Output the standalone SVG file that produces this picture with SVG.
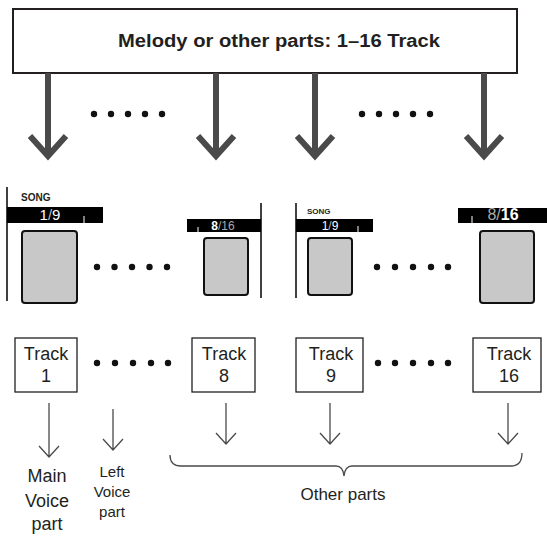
<svg xmlns="http://www.w3.org/2000/svg" width="547" height="536" viewBox="0 0 547 536">
<style>
.t{font-family:"Liberation Sans",Arial,sans-serif;fill:#231f20}
.big{stroke:#4a4a4a;stroke-width:6;fill:none;stroke-linecap:butt}
.thin{stroke:#4a4a4a;stroke-width:1.3;fill:none}
.box{fill:#fff;stroke:#231f20;stroke-width:1.3}
.bar{fill:#000}
.scr{fill:#c8c8c8;stroke:#111;stroke-width:2}
.vl{stroke:#000;stroke-width:1.5}
.dot{fill:#111}
.wt{font-family:"Liberation Sans",Arial,sans-serif;fill:#fff}
.gt{font-family:"Liberation Sans",Arial,sans-serif;fill:#aaa}
</style>
<rect width="547" height="536" fill="#fff"/>
<g id="top">
<rect x="13" y="9" width="504" height="64" fill="#fff" stroke="#231f20" stroke-width="2"/>
<text class="t" x="279" y="47" font-size="18" font-weight="bold" text-anchor="middle" textLength="322" lengthAdjust="spacingAndGlyphs">Melody or other parts: 1–16 Track</text>
</g>
<g id="connectors">
<path class="big" d="M48 73V157M30 136L48 156L66 136"/>
<path class="big" d="M216 73V157M198 136L216 156L234 136"/>
<path class="big" d="M315 73V157M297 136L315 156L333 136"/>
<path class="big" d="M484 73V157M466 136L484 156L502 136"/>
<path class="thin" d="M49 403V457M39 446L49 457L59 446"/>
<path class="thin" d="M113 409V450M103 439L113 450L123 439"/>
<path class="thin" d="M226 403V444M216 433L226 444L236 433"/>
<path class="thin" d="M330 403V444M320 433L330 444L340 433"/>
<path class="thin" d="M508 403V444M498 433L508 444L518 433"/>
<path class="thin" d="M170 455Q170 466 181 466H336Q343 466 344 476Q345 466 352 466H511Q522 466 522 453"/>
</g>
<g id="dots">
<g class="dot">
<circle cx="94" cy="114" r="3.2"/><circle cx="111" cy="114" r="3.2"/><circle cx="128" cy="114" r="3.2"/><circle cx="145" cy="114" r="3.2"/><circle cx="162" cy="114" r="3.2"/>
<circle cx="362" cy="114" r="3.2"/><circle cx="379" cy="114" r="3.2"/><circle cx="396" cy="114" r="3.2"/><circle cx="413" cy="114" r="3.2"/><circle cx="430" cy="114" r="3.2"/>
<circle cx="97" cy="267" r="3.2"/><circle cx="114.5" cy="267" r="3.2"/><circle cx="132" cy="267" r="3.2"/><circle cx="149.5" cy="267" r="3.2"/><circle cx="167" cy="267" r="3.2"/>
<circle cx="377" cy="267" r="3.2"/><circle cx="395" cy="267" r="3.2"/><circle cx="413" cy="267" r="3.2"/><circle cx="431" cy="267" r="3.2"/><circle cx="448" cy="267" r="3.2"/>
<circle cx="97" cy="363" r="3.2"/><circle cx="115" cy="363" r="3.2"/><circle cx="133" cy="363" r="3.2"/><circle cx="151" cy="363" r="3.2"/><circle cx="168" cy="363" r="3.2"/>
<circle cx="378" cy="363" r="3.2"/><circle cx="395" cy="363" r="3.2"/><circle cx="413" cy="363" r="3.2"/><circle cx="431" cy="363" r="3.2"/><circle cx="448" cy="363" r="3.2"/>
</g>
</g>
<g id="display1">
<line class="vl" x1="7" y1="187" x2="7" y2="301"/>
<text class="t" x="21" y="201" font-size="10" font-weight="bold" fill="#000">SONG</text>
<rect class="bar" x="7" y="207" width="96" height="16"/>
<line x1="84" y1="216" x2="84" y2="223" stroke="#fff" stroke-width="1"/>
<text x="50" y="220" font-size="15" text-anchor="middle" class="wt"><tspan>1</tspan><tspan fill="#bbb">/</tspan><tspan>9</tspan></text>
<rect class="scr" x="22" y="231" width="55" height="72" rx="3"/>
</g>
<g id="display2">
<line class="vl" x1="261" y1="203" x2="261" y2="298"/>
<rect class="bar" x="187" y="219" width="74" height="13"/>
<line x1="198" y1="227" x2="198" y2="232" stroke="#fff" stroke-width="1"/>
<text x="223" y="229.5" font-size="12" text-anchor="middle" class="wt"><tspan font-weight="bold">8</tspan><tspan fill="#aaa">/16</tspan></text>
<rect class="scr" x="204" y="238" width="44" height="57" rx="3"/>
</g>
<g id="display3">
<line class="vl" x1="296" y1="203" x2="296" y2="298"/>
<text class="t" x="307" y="214" font-size="8" font-weight="bold" fill="#000">SONG</text>
<rect class="bar" x="296" y="219" width="77" height="13"/>
<line x1="358" y1="226" x2="358" y2="232" stroke="#fff" stroke-width="1"/>
<text x="330" y="229.5" font-size="12" text-anchor="middle" class="wt"><tspan>1</tspan><tspan fill="#bbb">/</tspan><tspan>9</tspan></text>
<rect class="scr" x="308" y="238" width="44" height="57" rx="3"/>
</g>
<g id="display4">
<rect class="bar" x="458" y="208" width="89" height="15"/>
<line x1="472" y1="216" x2="472" y2="223" stroke="#fff" stroke-width="1"/>
<text x="503" y="220" font-size="16" text-anchor="middle" class="wt"><tspan fill="#aaa">8/</tspan><tspan font-weight="bold">16</tspan></text>
<rect class="scr" x="480" y="231" width="54" height="72" rx="3"/>
</g>
<g id="track1">
<rect class="box" x="15" y="338" width="62" height="54"/>
<text class="t" x="46" y="360" font-size="18" text-anchor="middle">Track</text>
<text class="t" x="46" y="382" font-size="18" text-anchor="middle">1</text>
</g>
<g id="track8">
<rect class="box" x="192" y="338" width="63" height="54"/>
<text class="t" x="224" y="360" font-size="18" text-anchor="middle">Track</text>
<text class="t" x="224" y="382" font-size="18" text-anchor="middle">8</text>
</g>
<g id="track9">
<rect class="box" x="296" y="338" width="67" height="54"/>
<text class="t" x="331" y="360" font-size="18" text-anchor="middle">Track</text>
<text class="t" x="331" y="382" font-size="18" text-anchor="middle">9</text>
</g>
<g id="track16">
<rect class="box" x="473" y="338" width="68" height="54"/>
<text class="t" x="509" y="360" font-size="18" text-anchor="middle">Track</text>
<text class="t" x="509" y="382" font-size="18" text-anchor="middle">16</text>
</g>
<g id="main-voice">
<text class="t" font-size="18" text-anchor="middle"><tspan x="47" y="482">Main</tspan><tspan x="47" y="507">Voice</tspan><tspan x="47" y="530">part</tspan></text>
</g>
<g id="left-voice">
<text class="t" font-size="15" text-anchor="middle"><tspan x="112" y="477">Left</tspan><tspan x="112" y="497">Voice</tspan><tspan x="112" y="517">part</tspan></text>
</g>
<g id="other-parts">
<text class="t" x="343" y="500" font-size="17" text-anchor="middle">Other parts</text>
</g>
</svg>
